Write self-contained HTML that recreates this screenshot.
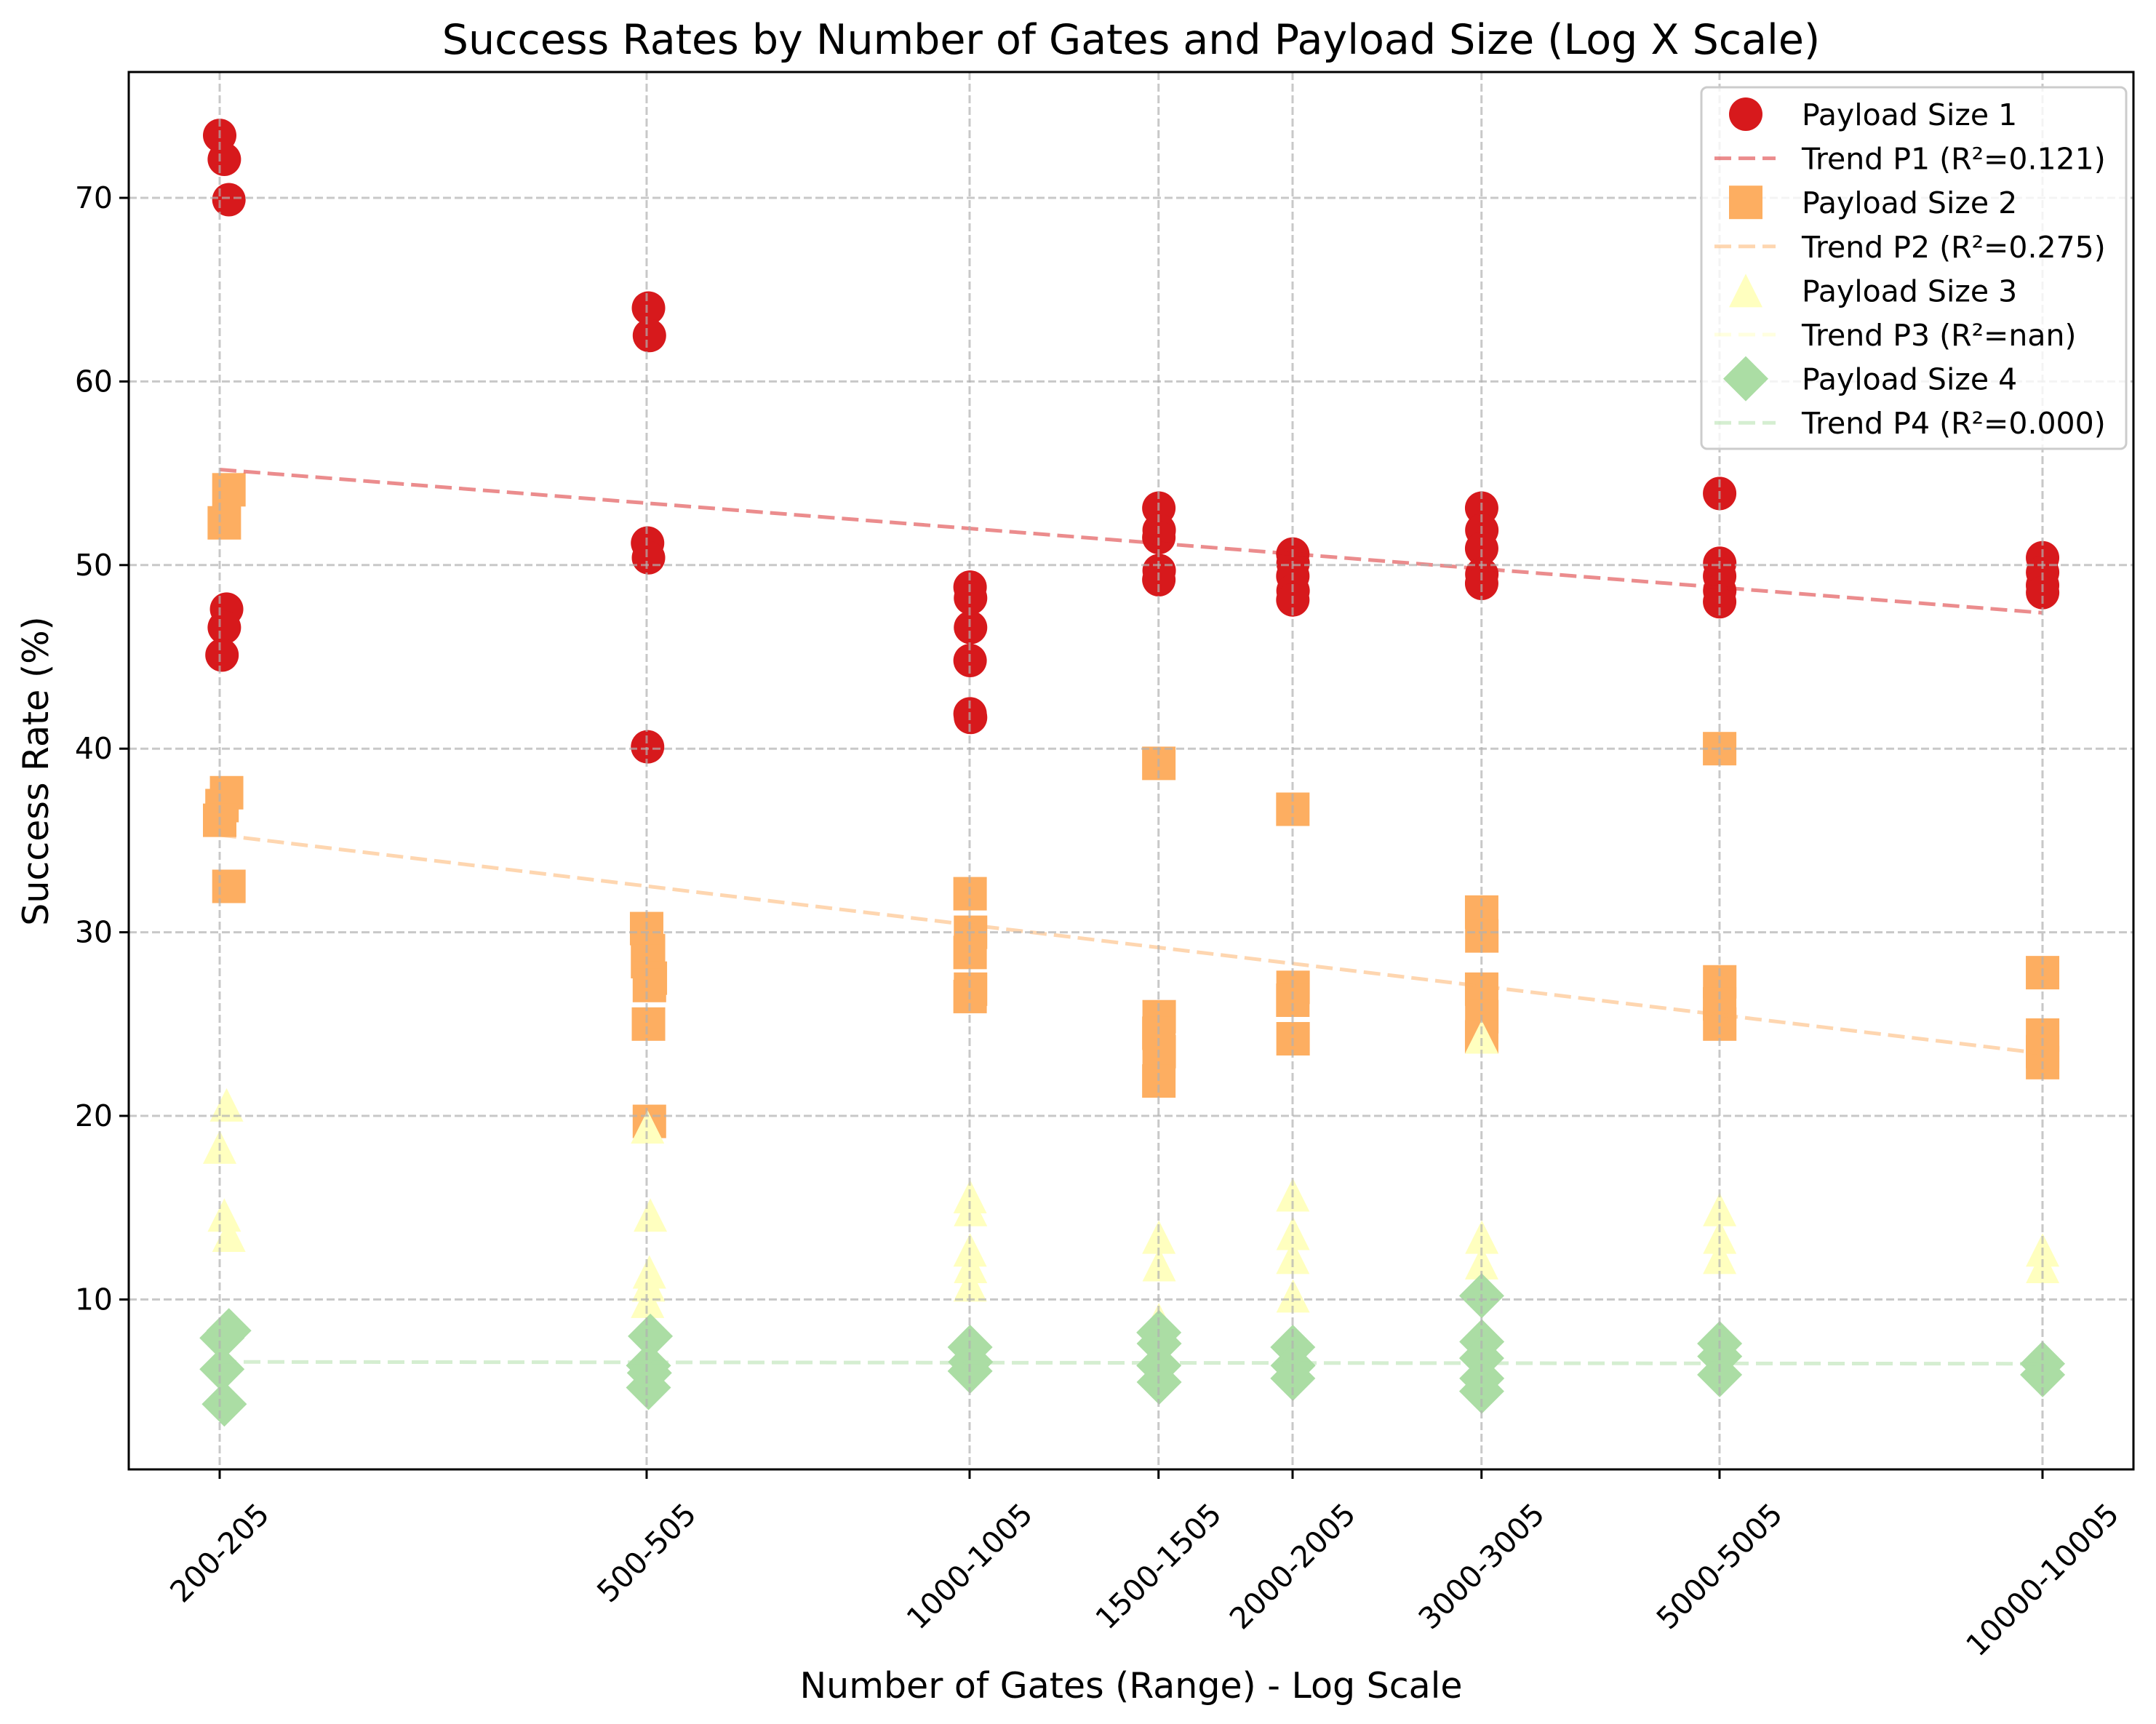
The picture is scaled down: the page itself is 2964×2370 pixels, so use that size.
<!DOCTYPE html>
<html><head><meta charset="utf-8">
<style>
html,body{margin:0;padding:0;background:#fff;}
svg{display:block;font-family:"DejaVu Sans","Liberation Sans",sans-serif;}
</style></head>
<body>
<svg id="chart" width="2964" height="2370" viewBox="0 0 2964 2370" xmlns="http://www.w3.org/2000/svg">
<rect x="0" y="0" width="2964" height="2370" fill="#fff"/>
<text x="1555" y="74" font-size="57" text-anchor="middle">Success Rates by Number of Gates and Payload Size (Log X Scale)</text>
<text x="1555" y="2334" font-size="49" text-anchor="middle">Number of Gates (Range) - Log Scale</text>
<text x="0" y="0" font-size="49" text-anchor="middle" transform="translate(66,1060) rotate(-90)">Success Rate (%)</text>
<g id="marks"></g>
<g id="grid"></g>
<g id="axes"></g>
<g id="legend"></g>
</svg>
<script>
const tickGates = [200, 500, 1000, 1500, 2000, 3000, 5000, 10000];
const tickLabels = ["200-205","500-505","1000-1005","1500-1505","2000-2005","3000-3005","5000-5005","10000-10005"];
const yTicks = [10, 20, 30, 40, 50, 60, 70];

const p1Gates = [200,202,204,203,202,201, 502,503,501,502,501, 1001,1002,1002,1001,1001,1002, 1501,1502,1501,1502,1501, 2001,2002,2001,2002,2001, 3001,3002,3001,3002,3001, 5001,5002,5001,5002,5001, 10001,10002,10001,10002];
const p1Values = [73.4,72.1,69.9,47.6,46.6,45.1, 64.0,62.5,51.2,50.4,40.1, 48.8,48.2,46.6,44.8,41.9,41.7, 53.1,51.9,51.5,49.7,49.2, 50.6,50.1,49.4,48.6,48.1, 53.1,51.9,50.9,49.5,49.0, 53.9,50.1,49.4,48.6,48.0, 50.4,49.6,48.9,48.5];
const p2Gates = [204,202,203,201,200,204, 500,502,501,504,503,502,503, 1001,1002,1001,1002,1001, 1501,1502,1501,1502,1501, 2001,2002,2001,2002, 3001,3002,3001,3002,3001, 5001,5002,5001,5002, 10001,10002,10001,10002];
const p2Values = [54.1,52.3,37.6,36.9,36.1,32.5, 30.2,29.0,28.4,27.5,27.1,25.0,19.7, 32.1,30.0,28.9,26.9,26.5, 39.2,25.4,24.5,23.5,21.9, 36.7,27.0,26.3,24.2, 31.1,29.8,26.9,25.4,24.3, 40.0,27.3,26.1,25.0, 27.8,24.4,23.5,22.9];
const p3Gates = [203,200,202,204, 501,504,503,502,501, 1001,1002,1001,1002,1001, 1501,1502,1501, 2001,2002,2001,2002, 3001,3002,3001,3002, 5001,5002,5001, 10001,10002];
const p3Values = [20.6,18.3,14.6,13.5, 19.4,14.6,11.5,10.8,9.9, 15.6,14.9,12.7,11.8,10.8, 13.4,11.9,8.9, 15.7,13.6,12.3,10.2, 24.3,13.4,12.0,10.8, 14.9,13.4,12.3, 12.7,11.8];
const p4Gates = [204,201,201,202, 504,502,503,502, 1001,1002,1001, 1501,1502,1501,1502, 2001,2002,2001, 3001,3002,3001,3002,3001, 5001,5002,5001, 10001,10002];
const p4Values = [8.3,7.9,6.2,4.3, 8.0,6.4,6.0,5.2, 7.4,6.6,6.1, 8.2,7.6,6.4,5.5, 7.4,6.4,5.7, 10.2,7.7,6.8,5.7,5.0, 7.6,6.9,5.9, 6.5,5.9];
const trendGates = [200, 10000];
const trendP1 = [55.2, 47.4];
const trendP2 = [35.3, 23.4];
const trendP4 = [6.6, 6.5];

const NS = "http://www.w3.org/2000/svg";
const L = 177, R = 2933, T = 99, B = 2020;
const X0 = 302, PXDEC = 1475;
function xs(g){ return X0 + (Math.log10(g) - Math.log10(200)) * PXDEC; }
function ys(v){ return 272 + (70 - v) * 25.24; }
function mk(tag, attrs, parent){ const e = document.createElementNS(NS, tag); for (const k in attrs) e.setAttribute(k, attrs[k]); parent.appendChild(e); return e; }

const marks = document.getElementById('marks');
const grid = document.getElementById('grid');
const axes = document.getElementById('axes');
const legend = document.getElementById('legend');
const C1 = "#d7191c", C2 = "#fdae61", C3 = "#ffffbf", C4 = "#abdda4";

function marker(shape, cx, cy, color, parent){
  let e;
  if (shape === 'circle') e = mk('circle', {cx:cx, cy:cy, r:23, fill:color}, parent);
  else if (shape === 'square') e = mk('rect', {x:cx-23, y:cy-23, width:46, height:46, fill:color}, parent);
  else if (shape === 'triangle') e = mk('polygon', {points:`${cx},${cy-23} ${cx-23},${cy+23} ${cx+23},${cy+23}`, fill:color}, parent);
  else e = mk('polygon', {points:`${cx},${cy-31} ${cx+31},${cy} ${cx},${cy+31} ${cx-31},${cy}`, fill:color}, parent);
  return e;
}

const series = [
  {g:p1Gates, v:p1Values, shape:'circle', c:C1, n:'payload-1-point'},
  {g:p2Gates, v:p2Values, shape:'square', c:C2, n:'payload-2-point'},
  {g:p3Gates, v:p3Values, shape:'triangle', c:C3, n:'payload-3-point'},
  {g:p4Gates, v:p4Values, shape:'diamond', c:C4, n:'payload-4-point'}
];
series.forEach(s => {
  s.g.forEach((g, i) => {
    const e = marker(s.shape, xs(g), ys(s.v[i]), s.c, marks);
    
    
  });
});

const trends = [
  {v:trendP1, c:C1, n:'trend-line-p1'},
  {v:trendP2, c:C2, n:'trend-line-p2'},
  {v:trendP4, c:C4, n:'trend-line-p4'}
];
trends.forEach(t => {
  const e = mk('line', {x1:xs(trendGates[0]), y1:ys(t.v[0]), x2:xs(trendGates[1]), y2:ys(t.v[1]), stroke:t.c, 'stroke-opacity':0.5, 'stroke-width':5, 'stroke-dasharray':'23 10'}, marks);
  
  
});

yTicks.forEach(v => {
  const e = mk('line', {x1:L, x2:R, y1:ys(v), y2:ys(v), stroke:'#b0b0b0', 'stroke-opacity':0.7, 'stroke-width':3, 'stroke-dasharray':'11 5'}, grid);
  
  
});
tickGates.forEach(g => {
  const e = mk('line', {x1:xs(g), x2:xs(g), y1:T, y2:B, stroke:'#b0b0b0', 'stroke-opacity':0.7, 'stroke-width':3, 'stroke-dasharray':'11 5'}, grid);
  
  
});

const frame = mk('rect', {x:L, y:T, width:R-L, height:B-T, fill:'none', stroke:'#000', 'stroke-width':3}, axes);



yTicks.forEach(v => {
  const t = mk('line', {x1:L-13, x2:L, y1:ys(v), y2:ys(v), stroke:'#000', 'stroke-width':3}, axes);
  
  
  const tx = mk('text', {x:L-22, y:ys(v)+14, 'font-size':41, 'text-anchor':'end'}, axes);
  tx.textContent = v;
  
  
});
tickGates.forEach((g, i) => {
  const x = xs(g);
  const t = mk('line', {x1:x, x2:x, y1:B, y2:B+13, stroke:'#000', 'stroke-width':3}, axes);
  
  
  const tx = mk('text', {x:0, y:0, 'font-size':41, 'text-anchor':'middle', 'dominant-baseline':'central'}, axes);
  tx.textContent = tickLabels[i];
  
  
  const w = tx.getComputedTextLength();
  const h = 46;
  const cy = B + 38 + (w + h) * 0.7071 / 2;
  tx.setAttribute('transform', `translate(${x},${cy}) rotate(-45)`);
});

const lb = mk('rect', {x:2339, y:120, width:584, height:497, rx:8, fill:'#fff', 'fill-opacity':0.8, stroke:'#cccccc', 'stroke-width':3}, legend);


const legendItems = [
  {t:'Payload Size 1', m:'circle', c:C1},
  {t:'Trend P1 (R²=0.121)', l:C1},
  {t:'Payload Size 2', m:'square', c:C2},
  {t:'Trend P2 (R²=0.275)', l:C2},
  {t:'Payload Size 3', m:'triangle', c:C3},
  {t:'Trend P3 (R²=nan)', l:C3},
  {t:'Payload Size 4', m:'diamond', c:C4},
  {t:'Trend P4 (R²=0.000)', l:C4}
];
legendItems.forEach((it, i) => {
  const cy = 157 + i * 60.6;
  const g = mk('g', {}, legend);
  
  
  if (it.m) marker(it.m, 2400, cy, it.c, g);
  else mk('line', {x1:2357, x2:2441, y1:cy, y2:cy, stroke:it.l, 'stroke-opacity':0.5, 'stroke-width':5, 'stroke-dasharray':'23 10'}, g);
  const tx = mk('text', {x:2477, y:cy+15, 'font-size':41}, g);
  tx.textContent = it.t;
});
</script>
</body></html>
